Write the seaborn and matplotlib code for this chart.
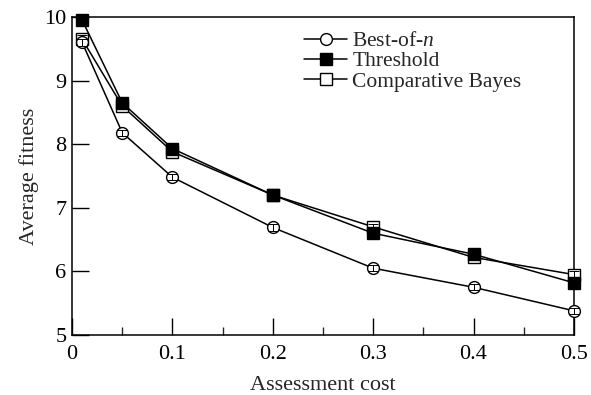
import numpy as np
import pandas as pd
import seaborn as sns
import matplotlib.pyplot as plt
from matplotlib.ticker import MultipleLocator

sns.set_style("ticks")
plt.rcParams['font.family'] = ['Liberation Serif', 'DejaVu Serif']
plt.rcParams['mathtext.fontset'] = 'custom'
plt.rcParams['mathtext.it'] = 'Liberation Serif:italic'
plt.rcParams['mathtext.rm'] = 'Liberation Serif'

# values
cost = [0.01, 0.05, 0.1, 0.2, 0.3, 0.4, 0.5]
best_of_n = [9.60, 8.18, 7.48, 6.69, 6.05, 5.75, 5.38]
threshold = [9.95, 8.65, 7.93, 7.20, 6.60, 6.27, 5.82]
comp_bayes = [9.65, 8.60, 7.88, 7.20, 6.70, 6.22, 5.95]
err_best = [0.06, 0.05, 0.05, 0.05, 0.05, 0.05, 0.05]
err_thr = [0.04, 0.04, 0.04, 0.04, 0.04, 0.04, 0.04]
err_cb = [0.06, 0.05, 0.05, 0.04, 0.05, 0.04, 0.05]

series = ["Best-of-$n$", "Threshold", "Comparative Bayes"]
df = pd.DataFrame({
    "cost": cost * 3,
    "fitness": best_of_n + threshold + comp_bayes,
    "err": err_best + err_thr + err_cb,
    "model": np.repeat(series, len(cost)),
})

styles = {
    "Best-of-$n$": dict(marker="o", mfc="white", ms=8.5, z=4),
    "Threshold": dict(marker="s", mfc="black", ms=8.5, z=6),
    "Comparative Bayes": dict(marker="s", mfc="white", ms=8.5, z=3),
}

fig, ax = plt.subplots(figsize=(5.91, 3.95), dpi=100)
fig.subplots_adjust(left=0.122, right=0.971, top=0.957, bottom=0.152)

for name in series:
    sub = df[df["model"] == name]
    st = styles[name]
    sns.lineplot(data=sub, x="cost", y="fitness", ax=ax, color="black", lw=1.1,
                 marker=st["marker"], markerfacecolor=st["mfc"], markeredgecolor="black",
                 markeredgewidth=1.0, markersize=st["ms"], label=name, zorder=st["z"],
                 clip_on=False)
    ax.errorbar(sub["cost"], sub["fitness"], yerr=sub["err"], fmt="none",
                ecolor="black", elinewidth=0.7, capsize=3.5, capthick=0.7,
                zorder=st["z"] + 0.5, clip_on=False)

ax.set_xlim(0, 0.5)
ax.set_ylim(5, 10)
ax.xaxis.set_minor_locator(MultipleLocator(0.05))
ax.yaxis.set_major_locator(MultipleLocator(1))
ax.set_xticks([0, 0.1, 0.2, 0.3, 0.4, 0.5])
ax.set_xticklabels(["0", "0.1", "0.2", "0.3", "0.4", "0.5"])
ax.tick_params(axis="both", which="major", direction="in", length=12, width=1,
               labelsize=16, colors="black", pad=4)
ax.tick_params(axis="x", which="major", pad=7)
ax.tick_params(axis="x", which="minor", direction="in", length=6, width=1)
for s in ax.spines.values():
    s.set_visible(True)
    s.set_linewidth(1.1)
    s.set_color("black")

ax.set_xlabel("Assessment cost", fontsize=16, labelpad=9)
ax.set_ylabel("Average fitness", fontsize=16, labelpad=4)

ax.legend(loc="upper left", bbox_to_anchor=(0.445, 0.982), frameon=False,
          fontsize=15.5, handlelength=2.0, handletextpad=0.25, labelspacing=0.0,
          borderaxespad=0)

fig.savefig("out.png", dpi=100)
